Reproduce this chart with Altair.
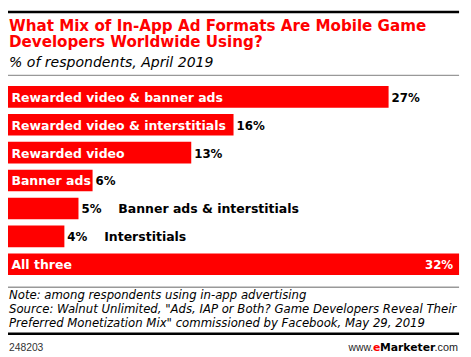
import altair as alt
import pandas as pd

categories = [
    "Rewarded video & banner ads",
    "Rewarded video & interstitials",
    "Rewarded video",
    "Banner ads",
    "Banner ads & interstitials",
    "Interstitials",
    "All three",
]
values = [27, 16, 13, 6, 5, 4, 32]

title_lines = [
    "What Mix of In-App Ad Formats Are Mobile Game",
    "Developers Worldwide Using?",
]
subtitle = "% of respondents, April 2019"
note_lines = [
    "Note: among respondents using in-app advertising",
    "Source: Walnut Unlimited, \"Ads, IAP or Both? Game Developers Reveal Their",
    "Preferred Monetization Mix\" commissioned by Facebook, May 29, 2019",
]
chart_id = "248203"

RED = "#FF0000"
BOLD = "DejaVu Sans"
SANS = "DejaVu Sans"
ARIAL = "Liberation Sans"

df = pd.DataFrame({"cat": categories, "val": values})
vmax = max(values)
df["label"] = df["val"].astype(str) + "%"
df["inside"] = df["val"] >= 6
df["ismax"] = df["val"] == vmax

W, H = 463, 349

xs = alt.Scale(domain=[0, vmax], range=[0, 459])
ys = alt.Scale(domain=categories, range=[76.3, 268.7], paddingInner=0.225, paddingOuter=0)
Y = alt.Y("cat:N", scale=ys, axis=None, sort=categories)

base = alt.Chart(df)

bars = base.mark_bar(color=RED).encode(
    x=alt.X("val:Q", scale=xs, axis=None),
    y=Y,
)

LS = 12.7
VS = 12

cat_in = base.transform_filter("datum.inside").mark_text(
    align="left", baseline="middle", dx=3.5, dy=1, color="white",
    font=BOLD, fontWeight="bold", fontSize=LS,
).encode(x=alt.value(0), y=Y, text="cat:N")

cat_out = base.transform_filter("!datum.inside").mark_text(
    align="left", baseline="middle", dx=40.5, dy=1, color="black",
    font=BOLD, fontWeight="bold", fontSize=LS,
).encode(x=alt.X("val:Q", scale=xs), y=Y, text="cat:N")

val_out = base.transform_filter("!datum.ismax").mark_text(
    align="left", baseline="middle", dx=3, dy=1, color="black",
    font=BOLD, fontWeight="bold", fontSize=VS,
).encode(x=alt.X("val:Q", scale=xs), y=Y, text="label:N")

val_in = base.transform_filter("datum.ismax").mark_text(
    align="right", baseline="middle", dx=-6, dy=1, color="white",
    font=BOLD, fontWeight="bold", fontSize=VS,
).encode(x=alt.X("val:Q", scale=xs), y=Y, text="label:N")

one = pd.DataFrame({"k": [0]})


def txt(s, x, y, size, color="black", weight="normal", style="normal", align="left", font=SANS):
    return alt.Chart(one).mark_text(
        align=align, baseline="alphabetic", font=font, fontSize=size,
        fontWeight=weight, fontStyle=style, color=color,
    ).encode(x=alt.value(x), y=alt.value(y), text=alt.value(s))


def hline(x1, x2, y, color, w):
    return alt.Chart(one).mark_rule(color=color, strokeWidth=w).encode(
        x=alt.value(x1), x2=alt.value(x2), y=alt.value(y)
    )


layers = [
    hline(-1, 459, 1, "black", 2.5),
    txt(title_lines[0], 1, 20, 15.4, RED, "bold", font=BOLD),
    txt(title_lines[1], 1, 37, 15.4, RED, "bold", font=BOLD),
    txt(subtitle, 1, 57, 14.3, "black", "normal", "italic"),
    hline(-1, 459, 65.5, "#999999", 1.5),
    bars, cat_in, cat_out, val_out, val_in,
    hline(-1, 459, 281, "#999999", 1.5),
    txt(note_lines[0], 1, 293, 11.9, "black", "normal", "italic"),
    txt(note_lines[1], 1, 307, 11.9, "black", "normal", "italic"),
    txt(note_lines[2], 1, 321.5, 11.9, "black", "normal", "italic"),
    hline(-1, 459, 328.5, "black", 2.5),
    txt(chart_id, 1, 346, 10.5, "#333333", font=ARIAL),
    txt("www.", 346.5, 346, 10.5, "#222222", font=ARIAL),
    txt("e", 371.5, 346, 11, RED, "bold", font=BOLD),
    txt("Marketer", 378.5, 346, 11, "black", "bold", font=BOLD),
    txt(".com", 434, 346, 11, "#222222", font=ARIAL),
]

chart = alt.layer(*layers).properties(
    width=W, height=H, autosize=alt.AutoSizeParams(type="none"), padding=0
).configure_view(stroke=None)

chart.save("out.html", embed_options={"renderer": "svg", "actions": False})
